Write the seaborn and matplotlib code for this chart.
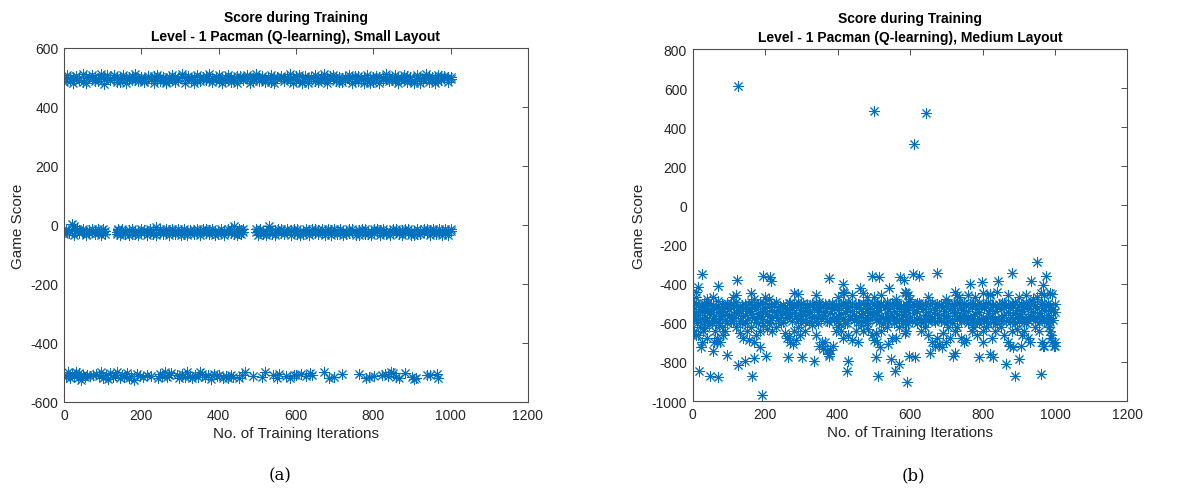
import matplotlib
matplotlib.use("Agg")
import matplotlib.pyplot as plt
import seaborn as sns
import pandas as pd

# ---------------- data: (a) small layout ----------------
small_top_x = [0,8,16,24,32,40,48,56,64,72,80,88,96,104,112,120,128,136,144,152,160,168,176,184,192,200,
               208,216,224,232,240,248,256,264,272,280,288,296,304,312,320,328,336,344,352,360,368,376,384,392,400,
               408,416,424,432,440,448,456,464,472,480,488,496,504,512,520,528,536,544,552,560,568,576,584,592,600,
               608,616,624,632,640,648,656,664,672,680,688,696,704,712,720,728,736,744,752,760,768,776,784,792,800,
               808,816,824,832,840,848,856,864,872,880,888,896,904,912,920,928,936,944,952,960,968,976,984,992,1000]
small_top_y = [497,503,488,499,505,492,486,501,498,494, 502,489,500,496,507,491,499,503,485,497,
               500,494,504,490,498,502,487,499,495,506, 493,500,498,484,503,496,501,490,505,497,
               499,492,502,488,500,496,504,493,498,501, 487,499,503,495,500,491,506,497,494,502,
               498,489,501,496,504,492,499,485,503,497, 500,494,502,490,498,505,493,481,500,496,
               503,488,499,502,495,491,504,497,500,486, 498,503,494,501,489,505,496,499,492,483,
               502,497,500,490,504,495,498,487,501,499, 493,505,496,482,502,498,491,500,503,494,
               499,488,504,497,501,500]
small_top2_y = [485,510,495,480,505,490,512,483,500,508, 488,496,511,479,502,493,507,486,498,509,
                481,503,491,512,487,499,484,506,496,480, 510,489,501,483,494,508,486,497,511,482,
                505,495,480,509,487,501,490,512,484,496, 507,481,493,510,486,499,483,505,491,508,
                480,497,511,488,502,485,494,509,482,500, 506,488,496,512,483,492,510,486,504,481,
                497,509,485,493,511,480,499,507,489,502, 484,494,510,482,506,488,497,480,509,491,
                486,505,482,498,511,487,493,508,481,496, 510,484,502,489,507,480,495,511,486,503,
                481,509,490,504,486,495]

small_mid_x = [0,6,14,20,26,33,39,
               50,57,64,72,80,88,96,101,106,
               136,140,145,151,159,167,175,183,191,199,207,215,223,231,239,247,255,263,271,279,287,295,
               303,311,319,327,335,343,351,359,367,375,383,391,399,407,415,423,431,439,447,452,457,462,
               496,502,506,514,522,530,538,546,554,562,570,578,586,594,602,610,618,626,634,642,650,658,
               666,674,682,690,698,706,714,722,730,738,746,754,762,770,778,786,794,802,810,818,826,834,
               842,850,858,866,874,882,890,898,906,914,922,930,938,946,954,962,970,978,986,994,1000]
small_mid_y = [-25,-18,-28,3,-2,-20,-27,
               -22,-30,-17,-24,-20,-28,-19,-25,-21,
               -23,-18,-27,-21,-25,-16,-29,-22,-19,-26, -24,-20,-28,-17,-8,-23,-26,-21,-18,-27,
               -22,-25,-19,-29,-20,-24,-17,-26,-23,-21, -28,-18,-25,-22,-20,-27,-19,-24,-26,-3,
               -21,-28,-18,-23,
               -24,-19,-27,-22,-20,-4,-26,-18,-23,-28, -21,-25,-17,-24,-29,-20,-22,-26,-19,-23,
               -27,-18,-25,-21,-28,-16,-24,-20,-26,-22, -19,-27,-23,-25,-18,-21,-29,-24,-20,-26,
               -22,-17,-28,-23,-19,-25,-21,-27,-18,-24, -26,-20,-22,-29,-19,-25,-23,-17,-27,-21,
               -24,-20,-26,-22,-19]
small_mid2_y = [-30,-12,-22,-15,-33,-12,-18,
                -14,-33,-27,-12,-32,-15,-34,-13,-30,
                -32,-13,-35,-15,-31,-34,-12,-30,-33,-14, -16,-33,-12,-31,-34,-13,-30,-15,-35,-12,
                -31,-14,-34,-12,-33,-16,-30,-13,-35,-15, -12,-32,-14,-34,-31,-13,-33,-15,-12,-30,
                -34,-13,-32,-15,
                -12,-33,-14,-31,-35,-13,-30,-34,-12,-15, -32,-13,-35,-14,-12,-33,-31,-15,-34,-12,
                -14,-32,-13,-35,-15,-33,-12,-31,-14,-34, -32,-12,-15,-33,-35,-13,-14,-31,-34,-12,
                -13,-35,-14,-32,-33,-12,-15,-31,-35,-13, -12,-33,-34,-14,-32,-15,-13,-35,-12,-31,
                -14,-33,-12,-34,-13]

small_bot_x = [0,5,10,15,20,25,30,35,40,45,50,55,60,
               68,76,
               84,90,96,102,108,114,120,126,132,138,144,150,156,162,168,174,180,
               188,196,205,214,225,
               242,248,254,260,266,272,278,
               292,298,305,312,318,325,332,340,346,352,358,365,372,380,388,395,402,410,418,425,432,438,
               452,460,468, 488, 513,521, 540,550,557, 575,585,595,600, 613,625,635,642,
               673,686,698,720, 763,780,790,801, 823,830,838,845,852,858, 866,883,
               900,905,910, 940,946, 964,968]
small_bot_y = [-508,-515,-500,-520,-505,-512,-498,-518,-503,-525,-510,-515,-507,
               -513,-509,
               -505,-512,-500,-518,-508,-522,-503,-515,-510,-498,-520,-507,-514,-502,-517,-511,-525,
               -505,-512,-516,-508,-511,
               -520,-505,-512,-498,-515,-508,-502,
               -510,-518,-505,-515,-500,-512,-520,-508,-514,-498,-506,-516,-510,-522,-504,-513,-509,-517,-511,-520,-507,-514,
               -517,-510,-500, -512, -515,-498, -510,-518,-505, -513,-518,-507,-510, -505,-512,-503,-510,
               -500,-520,-515,-505, -505,-518,-515,-512, -510,-505,-512,-500,-503,-515, -518,-502,
               -515,-522,-520, -510,-508, -505,-518]

# ---------------- data: (b) medium layout ----------------
med_core_x = [0,5,10,15,20,25,30,35,40,45,50,55,60,65,70,75,80,85,90,95,100,105,110,115,120,125,130,135,140,145,
              150,155,160,165,170,175,180,185,190,195,200,205,210,215,220,225,230,235,240,245,250,255,260,265,270,
              275,280,285,290,295,300,305,310,315,320,325,330,335,340,345,350,355,360,365,370,375,380,385,390,395,
              400,405,410,415,420,425,430,435,440,445,450,455,460,465,470,475,480,485,490,495,500,505,510,515,520,
              525,530,535,540,545,550,555,560,565,570,575,580,585,590,595,600,605,610,615,620,625,630,635,640,645,
              650,655,660,665,670,675,680,685,690,695,700,705,710,715,720,725,730,735,740,745,750,755,760,765,770,
              775,780,785,790,795,800,805,810,815,820,825,830,835,840,845,850,855,860,865,870,875,880,885,890,895,
              900,905,910,915,920,925,930,935,940,945,950,955,960,965,970,975,980,985,990,995,1000]
med_core_y = [-520,-545,-505,-560,-530,-515,-575,-540,-500,-550, -535,-510,-565,-525,-545,-580,-505,-540,-520,-555,
              -530,-500,-570,-515,-545,-535,-590,-510,-525,-560, -540,-505,-550,-520,-575,-530,-510,-565,-545,-500,
              -525,-555,-515,-585,-535,-505,-560,-520,-540,-570, -510,-545,-530,-500,-565,-525,-550,-515,-580,-535,
              -505,-560,-540,-520,-555,-510,-575,-530,-500,-545, -525,-565,-515,-540,-590,-505,-550,-530,-520,-570,
              -535,-510,-555,-500,-545,-525,-580,-515,-540,-560, -520,-505,-570,-530,-550,-510,-540,-585,-525,-500,
              -545,-515,-560,-535,-505,-575,-520,-550,-530,-510, -565,-540,-500,-555,-525,-580,-515,-545,-505,-535,
              -570,-520,-550,-510,-540,-500,-585,-530,-560,-515, -545,-505,-575,-525,-535,-555,-510,-590,-520,-540,
              -500,-565,-530,-515,-550,-545,-505,-570,-525,-535, -560,-510,-540,-580,-520,-500,-555,-530,-545,-515,
              -575,-525,-505,-550,-535,-565,-510,-540,-520,-585, -530,-500,-560,-515,-545,-525,-570,-505,-550,-535,
              -510,-555,-540,-520,-580,-530,-500,-565,-545,-515, -525,-550,-505,-575,-535,-510,-560,-520,-540,-530,
              -545]
med_core2_y = [-580,-495,-560,-510,-590,-540,-500,-570,-525,-595, -505,-575,-530,-598,-490,-565,-545,-515,-585,-500,
               -560,-590,-510,-575,-495,-550,-520,-600,-565,-505, -585,-530,-495,-570,-510,-595,-555,-500,-580,-540,
               -500,-590,-565,-505,-575,-545,-495,-585,-515,-560, -595,-520,-575,-555,-500,-590,-510,-565,-495,-580,
               -565,-500,-585,-510,-595,-545,-505,-570,-590,-520, -495,-580,-560,-505,-520,-595,-575,-500,-585,-510,
               -590,-570,-505,-580,-515,-600,-495,-565,-500,-585, -575,-595,-510,-560,-500,-590,-570,-505,-580,-555,
               -505,-585,-500,-595,-565,-510,-580,-495,-590,-570, -500,-575,-590,-505,-585,-515,-560,-600,-570,-495,
               -510,-590,-505,-585,-500,-575,-515,-595,-505,-580, -590,-565,-500,-585,-595,-505,-575,-510,-560,-595,
               -575,-500,-590,-585,-505,-510,-580,-495,-590,-570, -500,-585,-575,-505,-595,-565,-510,-590,-500,-580,
               -505,-590,-580,-500,-570,-510,-595,-580,-590,-505, -585,-575,-500,-590,-510,-595,-505,-580,-495,-570,
               -590,-505,-575,-595,-500,-585,-570,-510,-505,-590, -575,-595,-580,-505,-590,-580,-500,-595,-575,-585,
               -505]

med_low_x = [3,5,8,12,15,20,25,28,30,35,40,45,52,60,62,66,72,75,80,85,90,95,
             110,120,130,138,145,150,155,160,168,175,180,185,195,205,210,220,230,
             245,255,260,265,270,280,285,290,295,300,310,
             320,330,340,345,350,358,365,370,375,380,388,395,400,405,410,415,420,430,440,450,455,465,470,480,485,
             495,500,505,510,520,525,535,540,550,555,560,570,580,585,590,595,
             620,630,640,650,660,670,675,680,690,700,705,710,715,725,730,740,750,755,760,770,775,785,790,800,
             810,815,825,835,840,850,860,870,875,880,890,895,905,910,915,920,925,930,945,955,965,970,
             976,980,983,986,988,990,992,998,1000]
med_low_y = [-580,-640,-665,-600,-660,-620,-700,-640,-590,-625,-680,-610,-600,-700,-640,-680,-610,-700,-620,-660,-640,-600,
             -590,-620,-650,-680,-600,-640,-690,-620,-700,-660,-600,-640,-610,-630,-600,-640,-620,
             -600,-650,-680,-670,-700,-640,-690,-620,-660,-600,-640,
             -590,-610,-660,-600,-720,-700,-700,-740,-760,-740,-720,-640,-620,-600,-640,-680,-600,-660,-690,-640,-700,-610,-640,-600,-630,
             -660,-690,-650,-700,-640,-600,-620,-710,-680,-600,-680,-620,-600,-650,-640,-600,
             -600,-640,-620,-660,-700,-720,-680,-710,-650,-700,-620,-680,-600,-640,-620,-680,-700,-690,-600,-640,-620,-660,-600,-640,
             -620,-600,-680,-640,-600,-620,-660,-700,-720,-640,-600,-630,-720,-660,-640,-600,-680,-700,-620,-640,-700,-720,
             -580,-600,-620,-640,-660,-680,-700,-720,-700]

med_high_x = [10,40,55,110,120,160,170,200,210,280,290,340,400,415,440,470,480,500,520,560,585,590,595,600,
              650,700,725,730,735,760,780,800,820,840,870,900,920,940,950,960,970,985]
med_high_y = [-470,-480,-470,-470,-460,-450,-480,-470,-480,-450,-455,-460,-470,-440,-460,-450,-470,-470,-460,-480,-440,-450,-460,-480,
              -470,-480,-440,-460,-470,-460,-470,-450,-460,-440,-460,-470,-460,-480,-470,-450,-460,-450]

med_out_x = [126,501,611,643,
             25,15,9,17,23,48,71,69,57,66,96,121,126,144,163,170,186,190,195,202,213,215,264,278,303,336,
             377,377,361,414,418,425,430,462,494,505,512,515,517,541,547,558,570,572,583,592,598,609,625,
             613,673,656,687,719,724,765,791,798,802,820,830,821,843,866,880,883,889,901,935,949,960,966,
             975,968,991,1000]
med_out_y = [612,485,315,473,
             -350,-418,-444,-844,-725,-870,-879,-410,-742,-700,-763,-379,-815,-797,-870,-780,-725,-969,-359,-771,-367,-384,-776,-708,-776,-797,
             -372,-768,-734,-401,-447,-844,-797,-424,-359,-776,-870,-367,-725,-422,-785,-844,-810,-367,-379,-904,-768,-350,-359,
             -776,-347,-754,-725,-768,-754,-401,-776,-393,-700,-759,-776,-453,-384,-810,-345,-725,-870,-785,-384,-291,-862,-406,
             -362,-717,-453,-717]

x_ticks = [0, 200, 400, 600, 800, 1000, 1200]
small_y_ticks = [-600, -400, -200, 0, 200, 400, 600]
med_y_ticks = [-1000, -800, -600, -400, -200, 0, 200, 400, 600, 800]

title_top = "Score during Training"
title_small = "Level - 1 Pacman (Q-learning), Small Layout"
title_med = "Level - 1 Pacman (Q-learning), Medium Layout"
xlabel = "No. of Training Iterations"
ylabel = "Game Score"
captions = ["(a)", "(b)"]

# ---------------- styling ----------------
sns.set_theme(style="white")
plt.rcParams["font.family"] = ["Liberation Sans", "DejaVu Sans"]
plt.rcParams["axes.linewidth"] = 0.8

COLOR = "#0072BD"
TXT = "#262626"
SPINE = "#4d4d4d"
MARK = (8, 2, 0)

fig = plt.figure(figsize=(11.79, 4.89), dpi=100)
ax1 = fig.add_axes([0.0543, 0.1759, 0.3935, 0.7239])
ax2 = fig.add_axes([0.5875, 0.1779, 0.3688, 0.7198])


def series(xs, ys):
    return pd.DataFrame({"x": xs, "y": ys})


for df in [series(small_top_x, small_top_y), series(small_top_x, small_top2_y),
           series(small_mid_x, small_mid_y), series(small_mid_x, small_mid2_y),
           series(small_bot_x, small_bot_y)]:
    sns.scatterplot(data=df, x="x", y="y", ax=ax1, marker=MARK, color=COLOR, s=55,
                    linewidth=0.7, legend=False)

for df in [series(med_core_x, med_core_y), series(med_core_x, med_core2_y), series(med_low_x, med_low_y),
           series(med_high_x, med_high_y), series(med_out_x, med_out_y)]:
    sns.scatterplot(data=df, x="x", y="y", ax=ax2, marker=MARK, color=COLOR, s=55,
                    linewidth=0.7, legend=False)

for ax, yt, sub in [(ax1, small_y_ticks, title_small), (ax2, med_y_ticks, title_med)]:
    ax.set_xlim(x_ticks[0], x_ticks[-1])
    ax.set_ylim(yt[0], yt[-1])
    ax.set_xticks(x_ticks)
    ax.set_yticks(yt)
    ax.set_xticklabels([str(v) for v in x_ticks])
    ax.set_yticklabels([str(v) for v in yt])
    ax.tick_params(direction="in", length=4, width=0.7, color=SPINE, labelcolor=TXT,
                   labelsize=10, top=True, right=True, pad=4)
    for sp in ax.spines.values():
        sp.set_visible(True)
        sp.set_color(SPINE)
        sp.set_linewidth(0.8)
    ax.set_xlabel(xlabel, fontsize=11, color=TXT, labelpad=3)
    ax.set_ylabel(ylabel, fontsize=11, color=TXT, labelpad=4)
    ax.set_title(title_top + "\n" + sub, fontsize=10, fontweight="bold", color="black",
                 pad=6, linespacing=1.45)
    ax.grid(False)
    ax.set_facecolor("white")

fig.text(0.2375, 0.01, captions[0], ha="center", va="bottom", fontsize=12,
         family=["DejaVu Serif"], color="black")
fig.text(0.7745, 0.01, captions[1], ha="center", va="bottom", fontsize=12,
         family=["DejaVu Serif"], color="black")

fig.savefig("out.png", dpi=100, facecolor="white")
